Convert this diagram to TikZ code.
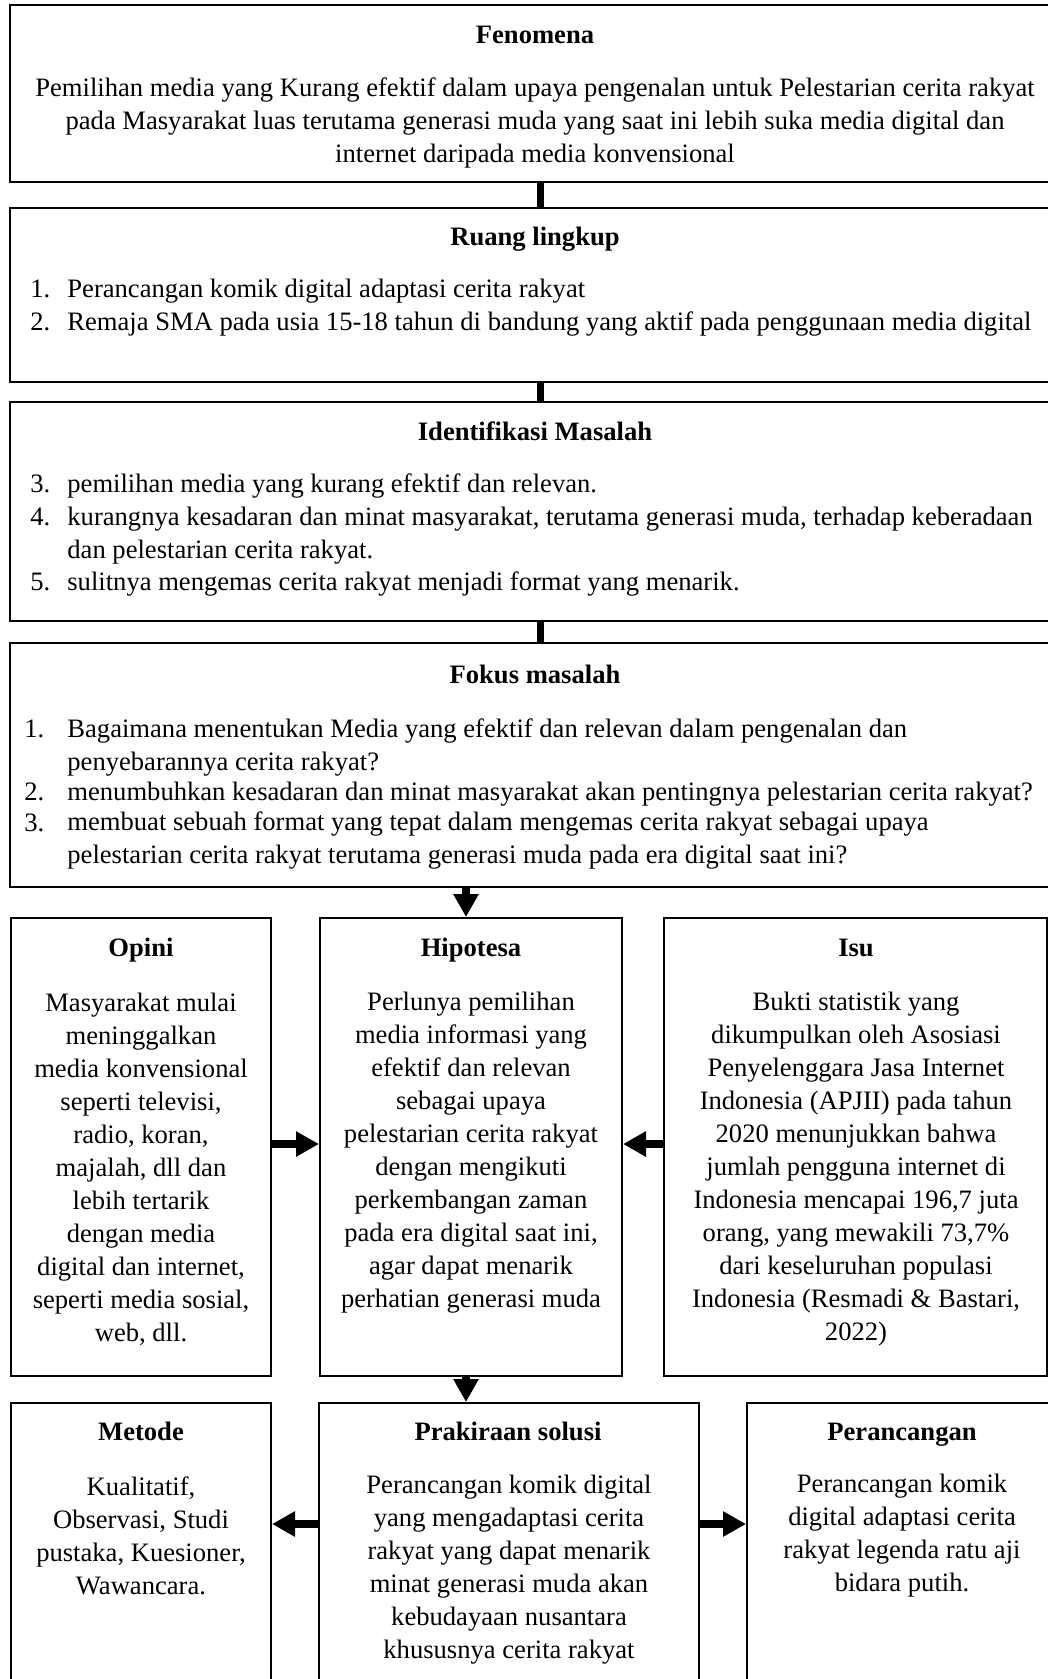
\documentclass[tikz,border=0pt]{standalone}
\usepackage{fontspec}
\setmainfont{Liberation Serif}
\usetikzlibrary{arrows.meta,fit}

\begin{document}
\begin{tikzpicture}[
		x=0.5pt,
		y=-0.5pt,
		box/.style={draw, line width=1pt, inner sep=0pt},
		ttl/.style={font=\fontsize{13.3}{16.5}\selectfont\bfseries, inner sep=0pt, text height=9pt, text depth=3pt},
		txt/.style={font=\fontsize{13.3}{16.5}\selectfont, inner sep=0pt, align=center},
		lst/.style={font=\fontsize{13.3}{16.5}\selectfont, inner sep=0pt, align=left, anchor=west},
		bar/.style={line width=3.5pt},
		arr/.style={line width=4.25pt, -{Triangle[length=11.5pt,width=12pt]}}
	]

	% Frame
	\useasboundingbox (0,0) rectangle (1048,1679);
	\clip (0,0) rectangle (1048,1679);

	% Boxes
	\node[box, fit={(10,5) (1060,182)}] (fen) {};
	\node[box, fit={(10,208) (1060,382)}] (ruang) {};
	\node[box, fit={(10,402) (1060,621)}] (iden) {};
	\node[box, fit={(10,643) (1060,887)}] (fokus) {};
	\node[box, fit={(11,918) (271,1376)}] (opini) {};
	\node[box, fit={(320,918) (622,1376)}] (hipo) {};
	\node[box, fit={(664,918) (1047,1376)}] (isu) {};
	\node[box, fit={(11,1403) (271,1700)}] (metode) {};
	\node[box, fit={(319,1403) (699,1700)}] (prak) {};
	\node[box, fit={(747,1403) (1060,1700)}] (peran) {};

	% Titles
	\node[ttl] (fenT) at (535,38) {Fenomena};
	\node[ttl] (ruangT) at (535,240) {Ruang lingkup};
	\node[ttl] (idenT) at (535,435) {Identifikasi Masalah};
	\node[ttl] (fokusT) at (535,677) {Fokus masalah};
	\node[ttl] (opiniT) at (141,950) {Opini};
	\node[ttl] (hipoT) at (471,950) {Hipotesa};
	\node[ttl] (isuT) at (856,950) {Isu};
	\node[ttl] (metodeT) at (141,1434) {Metode};
	\node[ttl] (prakT) at (508,1434) {Prakiraan solusi};
	\node[ttl] (peranT) at (902,1434) {Perancangan};

	% Fenomena
	\node[txt] (fenB) at (535,123) {Pemilihan media yang Kurang efektif dalam upaya pengenalan untuk Pelestarian cerita rakyat\\
		pada Masyarakat luas terutama generasi muda yang saat ini lebih suka media digital dan\\
		internet daripada media konvensional};

	% Ruang lingkup
	\node[lst] (ruang1n) at (30,291) {1.\strut};
	\node[lst] (ruang1) at (67,291) {Perancangan komik digital adaptasi cerita rakyat\strut};
	\node[lst] (ruang2n) at (30,324) {2.\strut};
	\node[lst] (ruang2) at (67,324) {Remaja SMA pada usia 15-18 tahun di bandung yang aktif pada penggunaan media digital\strut};

	% Identifikasi masalah
	\node[lst] (iden3n) at (30,486) {3.\strut};
	\node[lst] (iden3) at (67,486) {pemilihan media yang kurang efektif dan relevan.\strut};
	\node[lst] (iden4n) at (30,519) {4.\strut};
	\node[lst] (iden4) at (67,535.5) {\strut kurangnya kesadaran dan minat masyarakat, terutama generasi muda, terhadap keberadaan\\
		dan pelestarian cerita rakyat.\strut};
	\node[lst] (iden5n) at (30,584) {5.\strut};
	\node[lst] (iden5) at (67,584) {sulitnya mengemas cerita rakyat menjadi format yang menarik.\strut};

	% Fokus masalah
	\node[lst] (fokus1n) at (24,731) {1.\strut};
	\node[lst] (fokus1) at (67,747) {\strut Bagaimana menentukan Media yang efektif dan relevan dalam pengenalan dan\\
		penyebarannya cerita rakyat?\strut};
	\node[lst] (fokus2n) at (24,794) {2.\strut};
	\node[lst] (fokus2) at (67,794) {menumbuhkan kesadaran dan minat masyarakat akan pentingnya pelestarian cerita rakyat?\strut};
	\node[lst] (fokus3n) at (24,825) {3.\strut};
	\node[lst] (fokus3) at (67,840.5) {\strut membuat sebuah format yang tepat dalam mengemas cerita rakyat sebagai upaya\\
		pelestarian cerita rakyat terutama generasi muda pada era digital saat ini?\strut};

	% Middle row
	\node[txt] (opiniB) at (141,1169) {Masyarakat mulai\\meninggalkan\\media konvensional\\seperti televisi,\\radio, koran,\\
		majalah, dll dan\\lebih tertarik\\dengan media\\digital dan internet,\\seperti media sosial,\\web, dll.};
	\node[txt] (hipoB) at (471,1152.5) {Perlunya pemilihan\\media informasi yang\\efektif dan relevan\\sebagai upaya\\
		pelestarian cerita rakyat\\dengan mengikuti\\perkembangan zaman\\pada era digital saat ini,\\agar dapat menarik\\perhatian generasi muda};
	\node[txt] (isuB) at (856,1169) {Bukti statistik yang\\dikumpulkan oleh Asosiasi\\Penyelenggara Jasa Internet\\Indonesia (APJII) pada tahun\\
		2020 menunjukkan bahwa\\jumlah pengguna internet di\\Indonesia mencapai 196,7 juta\\orang, yang mewakili 73,7\%\\
		dari keseluruhan populasi\\Indonesia (Resmadi \& Bastari,\\2022)};

	% Bottom row
	\node[txt] (metodeB) at (141,1536) {Kualitatif,\\Observasi, Studi\\pustaka, Kuesioner,\\Wawancara.};
	\node[txt] (prakB) at (509,1570) {Perancangan komik digital\\yang mengadaptasi cerita\\rakyat yang dapat menarik\\
		minat generasi muda akan\\kebudayaan nusantara\\khususnya cerita rakyat};
	\node[txt] (peranB) at (902,1536) {Perancangan komik\\digital adaptasi cerita\\rakyat legenda ratu aji\\bidara putih.};

	% Connectors
	\coordinate (barx) at (540,0);
	\draw[bar] (fen.south -| barx) -- (ruang.north -| barx);
	\draw[bar] (ruang.south -| barx) -- (iden.north -| barx);
	\draw[bar] (iden.south -| barx) -- (fokus.north -| barx);
	\coordinate (arrx) at (466,0);
	\draw[arr] (fokus.south -| arrx) -- (hipo.north -| arrx);
	\draw[arr] (hipo.south -| arrx) -- (prak.north -| arrx);
	\coordinate (arrm) at (0,1144);
	\draw[arr] (opini.east |- arrm) -- (hipo.west |- arrm);
	\draw[arr] (isu.west |- arrm) -- (hipo.east |- arrm);
	\coordinate (arrb) at (0,1524);
	\draw[arr] (prak.west |- arrb) -- (metode.east |- arrb);
	\draw[arr] (prak.east |- arrb) -- (peran.west |- arrb);

\end{tikzpicture}
\end{document}
